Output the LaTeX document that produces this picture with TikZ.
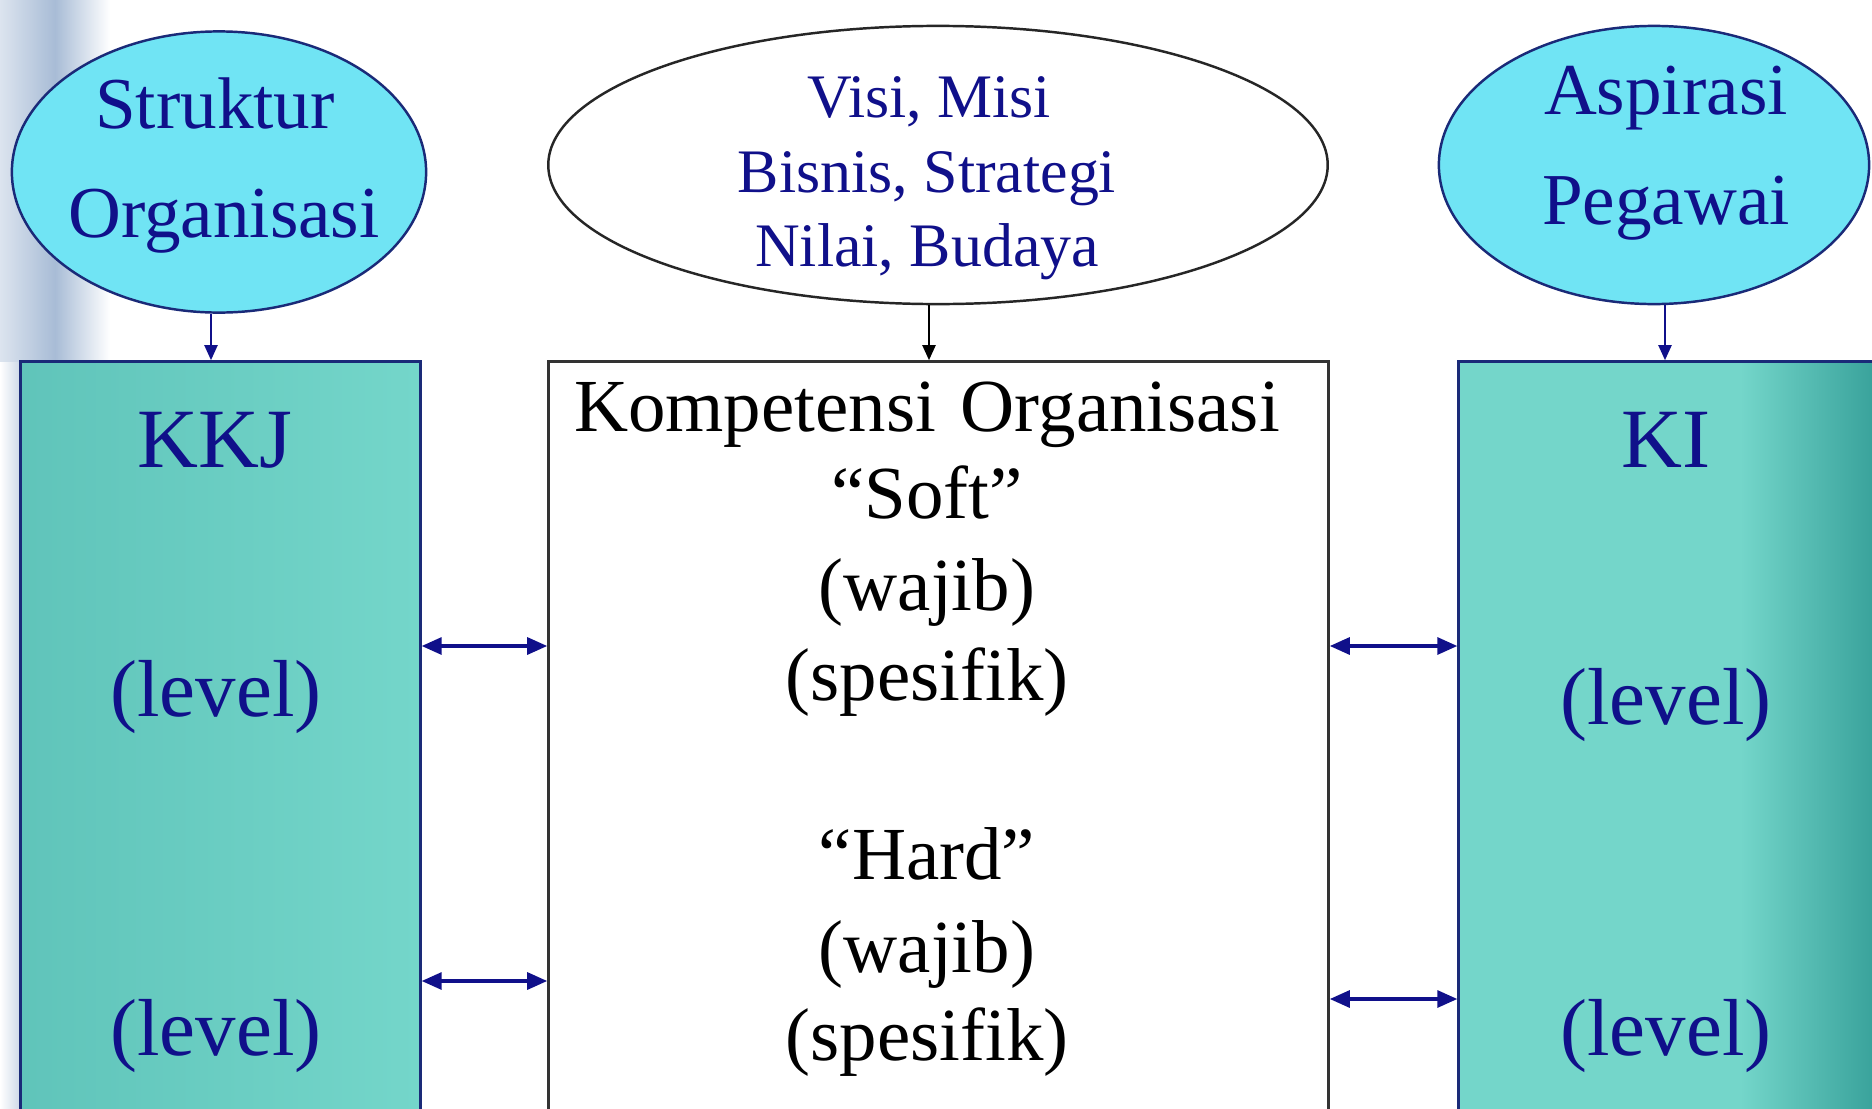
\documentclass[tikz,border=0pt]{standalone}
\usepackage{fontspec}
\setmainfont{Liberation Serif}
\usetikzlibrary{shapes.geometric,arrows.meta,calc}
\definecolor{txtblue}{HTML}{10108A}
\definecolor{navyline}{HTML}{1A2A78}
\definecolor{ellfill}{HTML}{70E4F4}
\definecolor{boxfill}{HTML}{74D6CA}
\definecolor{boxdark}{HTML}{3AA39C}
\definecolor{sidegray}{HTML}{A8BCD6}
\tikzset{
  sideell/.style={ellipse, draw=navyline, line width=0.7pt, fill=ellfill, inner sep=0pt},
  midell/.style={ellipse, draw=black!85, line width=0.7pt, fill=white, inner sep=0pt},
  sidebox/.style={rectangle, draw=navyline, line width=0.9pt, inner sep=0pt},
  midbox/.style={rectangle, draw=black!80, line width=0.9pt, fill=white, inner sep=0pt},
  lbl/.style={anchor=base, inner sep=0pt, text=txtblue},
  ctext/.style={anchor=base, inner sep=0pt, text=black},
  flowarrow/.style={line width=0.6pt, -{Triangle[length=0.15cm,width=0.13cm]}},
  duoarrow/.style={draw=txtblue, line width=0.9pt, {Triangle[length=0.2cm,width=0.17cm]}-{Triangle[length=0.2cm,width=0.17cm]}},
}
\begin{document}
\begin{tikzpicture}[x=0.01cm,y=-0.01cm]
\useasboundingbox (0,0) rectangle (1872,1109);
\fill[white] (0,0) rectangle (1872,1109);
% slide background touches on the left
\shade[left color=white!60!sidegray, right color=white, middle color=sidegray] (0,0) rectangle (110,362);
\shade[left color=white, right color=sidegray!60] (0,362) rectangle (21,1109);

% shapes
\node[sideell, minimum width=4.14cm, minimum height=2.81cm] (lell) at (219,172) {};
\node[midell, minimum width=7.79cm, minimum height=2.78cm] (mell) at (938,165) {};
\node[sideell, minimum width=4.30cm, minimum height=2.78cm] (rell) at (1654,165) {};

\node[sidebox, minimum width=3.99cm, minimum height=7.68cm, left color=boxdark!35!boxfill, right color=boxfill] (lbox) at (220.5,746) {};
\node[midbox, minimum width=7.79cm, minimum height=7.68cm] (mbox) at (938.5,746) {};
\node[sidebox, minimum width=4.31cm, minimum height=7.68cm, fill=boxfill] (rbox) at (1674.5,746) {};
\shade[left color=boxfill, right color=boxdark] (1740,363.5) rectangle (1872,1109);

% texts in ellipses
\begin{scope}[font=\fontsize{20.8}{25}\selectfont]
\node[lbl] (t1) at (215,128) {Struktur};
\node[lbl] (t2) at (224,237) {Organisasi};
\node[lbl] (t3) at (1666,114) {Aspirasi};
\node[lbl] (t4) at (1666,224) {Pegawai};
\end{scope}
\begin{scope}[font=\fontsize{17.6}{21}\selectfont]
\node[lbl] (t5) at (929,117) {Visi, Misi};
\node[lbl] (t6) at (927,192) {Bisnis, Strategi};
\node[lbl] (t7) at (927,266) {Nilai, Budaya};
\end{scope}

% texts in side boxes
\node[lbl, font=\fontsize{24}{28}\selectfont] (kkj) at (215,467) {KKJ};
\node[lbl, font=\fontsize{24}{28}\selectfont] (ki) at (1666,467) {KI};
\begin{scope}[font=\fontsize{23}{27}\selectfont]
\node[lbl] (l1) at (216,716) {(level)};
\node[lbl] (l2) at (216,1055) {(level)};
\node[lbl] (l3) at (1666,724) {(level)};
\node[lbl] (l4) at (1666,1055) {(level)};
\end{scope}

% texts in the middle box
\begin{scope}[font=\fontsize{21.3}{25}\selectfont]
\node[ctext] (c1) at (927,431) {Kompetensi\hspace{0.33em}Organisasi};
\node[ctext] (c2) at (927,518) {“Soft”};
\node[ctext] (c3) at (927,610) {(wajib)};
\node[ctext] (c4) at (927,700) {(spesifik)};
\node[ctext] (c5) at (927,879) {“Hard”};
\node[ctext] (c6) at (927,972) {(wajib)};
\node[ctext] (c7) at (927,1060) {(spesifik)};
\end{scope}

% connectors
\draw[flowarrow, draw=txtblue] (lell.south -| 211,0) -- (lbox.north -| 211,0);
\draw[flowarrow, draw=black] (mell.south -| 929,0) -- (mbox.north -| 929,0);
\draw[flowarrow, draw=txtblue] (rell.south -| 1665,0) -- (rbox.north -| 1665,0);

\draw[duoarrow] (lbox.east |- 0,646) -- (mbox.west |- 0,646);
\draw[duoarrow] (lbox.east |- 0,981) -- (mbox.west |- 0,981);
\draw[duoarrow] (mbox.east |- 0,646) -- (rbox.west |- 0,646);
\draw[duoarrow] (mbox.east |- 0,999) -- (rbox.west |- 0,999);
\end{tikzpicture}
\end{document}
